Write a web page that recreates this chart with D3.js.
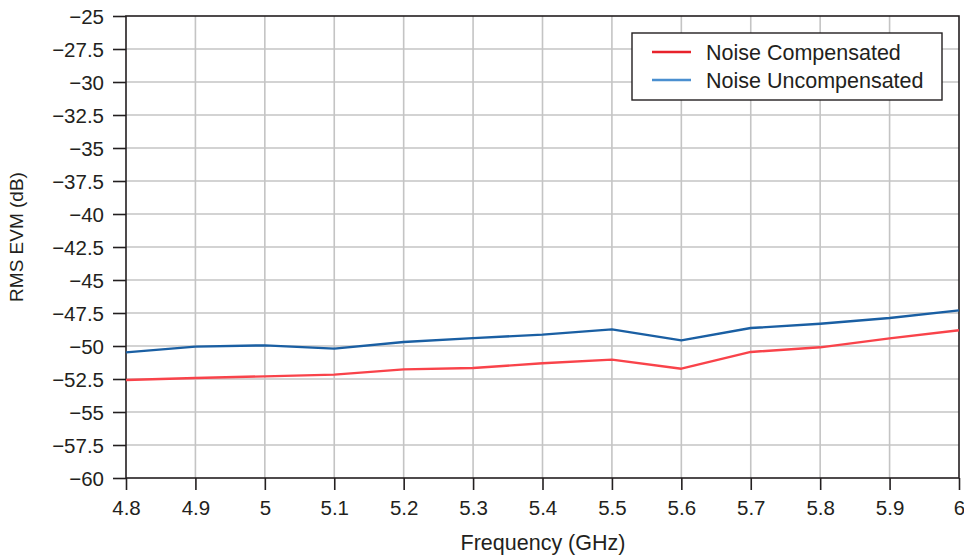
<!DOCTYPE html>
<html><head><meta charset="utf-8">
<script src="https://cdn.jsdelivr.net/npm/d3@7/dist/d3.min.js"></script>
<style>body{margin:0;background:#fff;} text{font-family:"Liberation Sans",Arial,Helvetica,sans-serif;fill:#231f20;}</style>
</head><body>
<svg id="c" width="964" height="558"></svg>
<script>
const freq = [4.8, 4.9, 5.0, 5.1, 5.2, 5.3, 5.4, 5.5, 5.6, 5.7, 5.8, 5.9, 6.0];
const compensated = [-52.58, -52.42, -52.3, -52.17, -51.77, -51.67, -51.31, -51.03, -51.72, -50.45, -50.1, -49.42, -48.81];
const uncompensated = [-50.48, -50.05, -49.95, -50.2, -49.7, -49.4, -49.14, -48.74, -49.57, -48.64, -48.31, -47.88, -47.3];
const xTicks = [4.8, 4.9, 5.0, 5.1, 5.2, 5.3, 5.4, 5.5, 5.6, 5.7, 5.8, 5.9, 6.0];
const yTicks = [-25, -27.5, -30, -32.5, -35, -37.5, -40, -42.5, -45, -47.5, -50, -52.5, -55, -57.5, -60];
const seriesNames = ["Noise Compensated", "Noise Uncompensated"];
const seriesColors = ["#f9434a", "#1a5fa3"];
const legendColors = ["#e8222b", "#4a8fd0"];

const svg = d3.select("#c");
const L = 126, R = 959, T = 16, B = 478;
const x = d3.scaleLinear().domain([4.8, 6.0]).range([L, R]);
const y = d3.scaleLinear().domain([-60, -25]).range([B, T]);
const fmt = v => (v < 0 ? "\u2212" : "") + d3.format("")(Math.abs(v));

// grid
const g = svg.append("g");
g.selectAll(".vg").data(xTicks.slice(1, -1)).join("line")
  .attr("x1", d => x(d)).attr("x2", d => x(d)).attr("y1", T).attr("y2", B)
  .attr("stroke", "#c4c4c4").attr("stroke-width", 1.6);
g.selectAll(".hg").data(yTicks.slice(1, -1)).join("line")
  .attr("x1", L).attr("x2", R).attr("y1", d => y(d)).attr("y2", d => y(d))
  .attr("stroke", "#c4c4c4").attr("stroke-width", 1.6);

// axes
const xa = svg.append("g").attr("transform", `translate(0,${B})`)
  .call(d3.axisBottom(x).tickValues(xTicks).tickFormat(fmt).tickSize(12).tickPadding(10));
const ya = svg.append("g").attr("transform", `translate(${L},0)`)
  .call(d3.axisLeft(y).tickValues(yTicks).tickFormat(fmt).tickSize(13).tickPadding(9));
[xa, ya].forEach(a => {
  a.select(".domain").remove();
  a.selectAll("line").attr("stroke", "#231f20").attr("stroke-width", 1.6);
  a.selectAll("text").attr("font-size", 20.5).style("fill", "#231f20")
   .attr("font-family", "'Liberation Sans',Arial,sans-serif");
});
xa.selectAll("text").attr("dy", "0.71em");
ya.selectAll("text").attr("dy", "0.36em");
// frame
svg.append("rect").attr("x", L).attr("y", T).attr("width", R - L).attr("height", B - T)
  .attr("fill", "none").attr("stroke", "#231f20").attr("stroke-width", 1.6);

// lines
const line = d3.line().x((d, i) => x(freq[i])).y(d => y(d));
[compensated, uncompensated].forEach((s, k) => {
  svg.append("path").datum(s).attr("d", line).attr("fill", "none")
    .attr("stroke", seriesColors[k]).attr("stroke-width", 2.4).attr("stroke-linejoin", "round");
});

// legend
const lg = svg.append("g");
lg.append("rect").attr("x", 632).attr("y", 33).attr("width", 310).attr("height", 67)
  .attr("fill", "#fff").attr("stroke", "#231f20").attr("stroke-width", 1.4);
seriesNames.forEach((n, k) => {
  const yy = 52 + k * 28;
  lg.append("line").attr("x1", 652).attr("x2", 691).attr("y1", yy).attr("y2", yy)
    .attr("stroke", legendColors[k]).attr("stroke-width", 2.4);
  lg.append("text").attr("x", 706).attr("y", yy).attr("dy", "0.36em")
    .attr("font-size", 21.5).text(n);
});

// axis titles
svg.append("text").attr("x", 543).attr("y", 550).attr("text-anchor", "middle")
  .attr("font-size", 21.5).text("Frequency (GHz)");
svg.append("text").attr("transform", "translate(23,237) rotate(-90)").attr("text-anchor", "middle")
  .attr("font-size", 19).text("RMS EVM (dB)");
</script>
</body></html>
